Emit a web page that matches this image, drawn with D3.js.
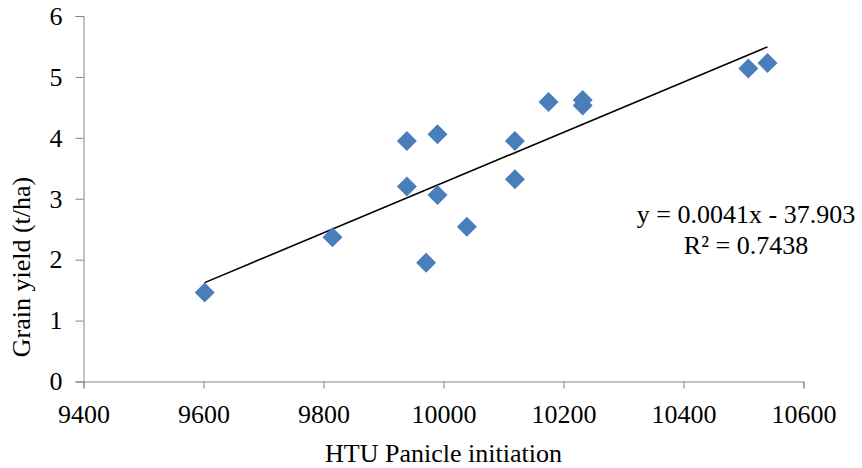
<!DOCTYPE html>
<html>
<head>
<meta charset="utf-8">
<script src="https://cdn.jsdelivr.net/npm/d3@7"></script>
<style>
  body { margin: 0; background: #fff; }
  text { font-family: "Liberation Serif", "Times New Roman", serif; fill: #000; }
</style>
</head>
<body>
<svg id="drawspace" width="862" height="468"></svg>
<script>
// data
const htu = [9602, 9815, 9939, 9939, 9990, 9990, 9971, 10039, 10119, 10119, 10175, 10232, 10232, 10508, 10540];
const yieldT = [1.46, 2.37, 3.95, 3.20, 4.06, 3.06, 1.95, 2.54, 3.95, 3.32, 4.59, 4.62, 4.53, 5.14, 5.23];
const xTicks = [9400, 9600, 9800, 10000, 10200, 10400, 10600];
const yTicks = [0, 1, 2, 3, 4, 5, 6];
const eqText = ["y = 0.0041x - 37.903", "R\u00B2 = 0.7438"];

let svg = d3.select("#drawspace");

let x = d3.scaleLinear().domain([9400, 10600]).range([83.5, 803.5]);
let y = d3.scaleLinear().domain([0, 6]).range([381.5, 16]);

// axes
let xAxis = svg.append("g").attr("transform", "translate(0,381.5)")
  .call(d3.axisBottom(x).tickValues(xTicks).tickSize(7).tickPadding(16).tickFormat(d3.format("d")));
let yAxis = svg.append("g").attr("transform", "translate(83.5,0)")
  .call(d3.axisLeft(y).tickValues(yTicks).tickSize(8).tickPadding(13).tickFormat(d3.format("d")));

[xAxis, yAxis].forEach(a => {
  a.selectAll("path, line").attr("stroke", "#868686");
  a.selectAll("text").style("font-size", "26px").attr("fill", "#000")
    .style("font-family", "'Liberation Serif', serif");
});
xAxis.selectAll("text").attr("dy", "0.71em");

// linear trend line from the points
let pts = htu.map((d, i) => [d, yieldT[i]]);
let mx = d3.mean(htu), my = d3.mean(yieldT);
let slope = d3.sum(pts, p => (p[0] - mx) * (p[1] - my)) / d3.sum(pts, p => (p[0] - mx) ** 2);
let icpt = my - slope * mx;
let xr = d3.extent(htu);

svg.append("line")
  .attr("x1", x(xr[0])).attr("y1", y(slope * xr[0] + icpt))
  .attr("x2", x(xr[1])).attr("y2", y(slope * xr[1] + icpt))
  .attr("stroke", "#000").attr("stroke-width", 1.6);

// diamond markers
svg.selectAll("path.pt")
  .data(pts)
  .enter()
  .append("path")
  .attr("class", "pt")
  .attr("d", "M0,-10L10,0L0,10L-10,0Z")
  .attr("transform", d => `translate(${x(d[0])},${y(d[1])})`)
  .attr("fill", "#4A7EBB");

// equation label
svg.append("text")
  .attr("x", 746).attr("y", 223)
  .attr("text-anchor", "middle")
  .style("font-size", "26px")
  .selectAll("tspan")
  .data(eqText)
  .enter()
  .append("tspan")
  .attr("x", 746)
  .attr("dy", (d, i) => i ? 31 : 0)
  .text(d => d);

// axis titles
svg.append("text")
  .attr("x", 443.5).attr("y", 462)
  .attr("text-anchor", "middle")
  .style("font-size", "26px")
  .text("HTU Panicle initiation");

svg.append("text")
  .attr("transform", "translate(30,267) rotate(-90)")
  .attr("text-anchor", "middle")
  .style("font-size", "26px")
  .text("Grain yield (t/ha)");
</script>
</body>
</html>
